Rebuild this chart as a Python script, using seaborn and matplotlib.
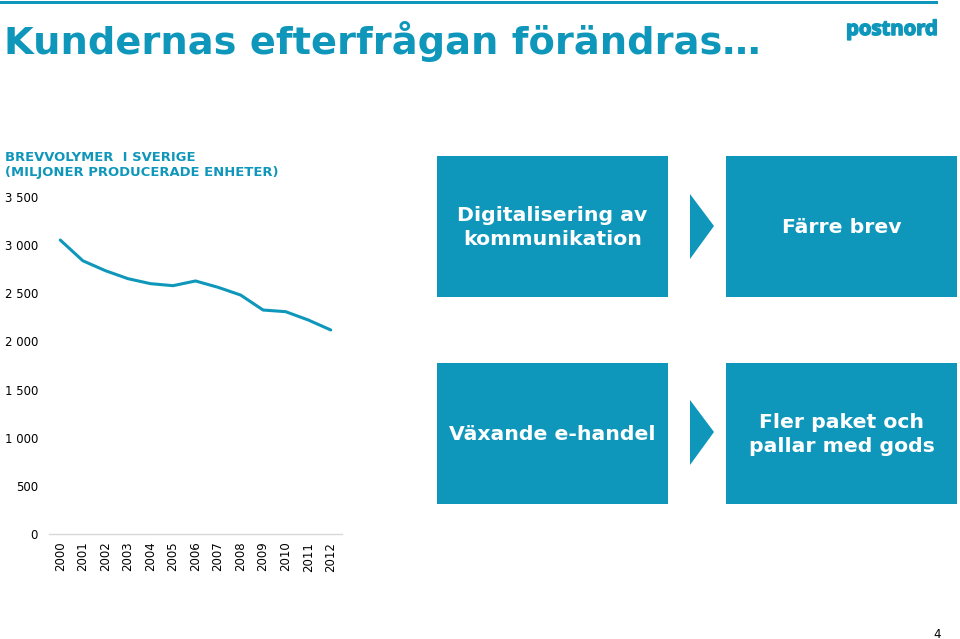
import matplotlib
matplotlib.use("Agg")
import matplotlib.pyplot as plt
import matplotlib.patheffects as pe
from matplotlib.patches import Polygon, Rectangle
import pandas as pd
import seaborn as sns

years = [2000, 2001, 2002, 2003, 2004, 2005, 2006, 2007, 2008, 2009, 2010, 2011, 2012]
volumes = [3053, 2838, 2735, 2652, 2600, 2579, 2628, 2562, 2482, 2326, 2309, 2223, 2119]
y_ticks = [0, 500, 1000, 1500, 2000, 2500, 3000, 3500]
y_labels = ["0", "500", "1 000", "1 500", "2 000", "2 500", "3 000", "3 500"]
box_texts = ["Digitalisering av\nkommunikation", "Färre brev", "Växande e-handel", "Fler paket och\npallar med gods"]

BLUE = "#0f97bb"
W, H = 960, 639

sns.set_theme(style="white")
plt.rcParams["font.family"] = ["DejaVu Sans"]

fig = plt.figure(figsize=(9.6, 6.39), dpi=100)


# pixel helpers, origin top left like the reference
def fx(px):
    return px / W


def fy(py):
    return 1 - py / H


ax = fig.add_axes([fx(49), fy(534), (342 - 49) / W, (534 - 197) / H])
df = pd.DataFrame({"year": years, "volume": volumes})
sns.lineplot(data=df, x="year", y="volume", color=BLUE, linewidth=2.2, ax=ax)
ax.set_xlim(1999.5, 2012.5)
ax.set_ylim(0, 3500)
ax.set_xticks(years)
ax.set_xticklabels(years, rotation=90, fontsize=8.5, color="black")
ax.set_yticks(y_ticks)
ax.set_yticklabels(y_labels, fontsize=8.5, color="black")
ax.set_xlabel("")
ax.set_ylabel("")
ax.tick_params(axis="both", length=0)
ax.tick_params(axis="x", pad=5.5)
ax.tick_params(axis="y", pad=8)
for side in ["top", "right", "left"]:
    ax.spines[side].set_visible(False)
ax.spines["bottom"].set_color("#d9d9d9")
ax.spines["bottom"].set_linewidth(1)
ax.patch.set_alpha(0)

# top rule
fig.add_artist(Rectangle((0, fy(4)), 938 / W, 3.5 / H, transform=fig.transFigure, color=BLUE, lw=0))

fig.text(fx(4), fy(41), "Kundernas efterfrågan förändras…", fontsize=27.6, fontweight="bold",
         color=BLUE, va="center", ha="left")
logo = fig.text(fx(892), fy(30), "postnord", fontsize=14.6, fontweight="bold", color=BLUE,
                va="center", ha="center", family="Open Sans")
logo.set_path_effects([pe.withStroke(linewidth=1.1, foreground=BLUE)])

fig.text(fx(5), fy(165), "BREVVOLYMER  I SVERIGE\n(MILJONER PRODUCERADE ENHETER)", fontsize=9.45,
         fontweight="bold", color=BLUE, va="center", ha="left", linespacing=1.15)

# boxes with their text
boxes = [(437, 156, 231, 141), (726, 156, 231, 141), (437, 363, 231, 141), (726, 363, 231, 141)]
for (bx, by, bw, bh), txt in zip(boxes, box_texts):
    fig.add_artist(Rectangle((fx(bx), fy(by + bh)), bw / W, bh / H, transform=fig.transFigure,
                             color=BLUE, lw=0))
    fig.text(fx(bx + bw / 2), fy(by + bh / 2 + 1), txt, fontsize=14.7, fontweight="bold", color="white",
             ha="center", va="center", linespacing=1.27)

# chevrons between the boxes
for top in [194, 400]:
    pts = [(fx(690), fy(top)), (fx(714), fy(top + 32)), (fx(690), fy(top + 65))]
    fig.add_artist(Polygon(pts, closed=True, transform=fig.transFigure, color=BLUE, lw=0))

fig.text(fx(937), fy(634), "4", fontsize=8.5, color="black", ha="center", va="center")

fig.savefig("out.png", dpi=100)
